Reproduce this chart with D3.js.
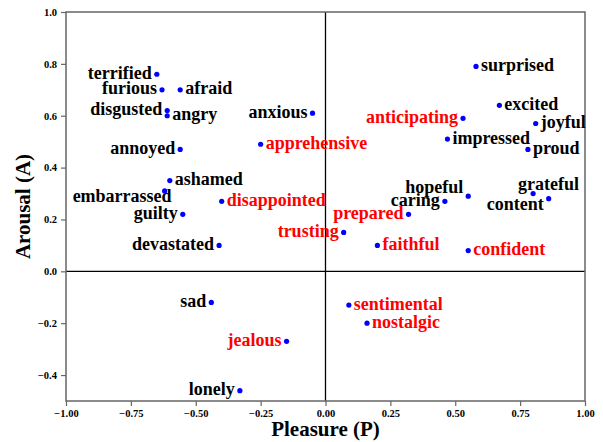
<!DOCTYPE html>
<html>
<head>
<meta charset="utf-8">
<script src="https://cdn.jsdelivr.net/npm/d3@7"></script>
<style>
  body { margin: 0; background: #fff }
  svg { display: block; font-family: "Liberation Serif", "Times New Roman", serif; font-weight: bold }
</style>
</head>
<body>
<svg id="chart" width="603" height="442"></svg>
<script>
'use strict'

// emotion words with their pleasure / arousal scores
const emotions = ['terrified', 'furious', 'afraid', 'disgusted', 'angry', 'anxious', 'apprehensive', 'annoyed',
    'ashamed', 'embarrassed', 'disappointed', 'guilty', 'devastated', 'trusting', 'prepared', 'faithful',
    'caring', 'hopeful', 'confident', 'grateful', 'content', 'surprised', 'excited', 'anticipating',
    'joyful', 'impressed', 'proud', 'sad', 'jealous', 'lonely', 'sentimental', 'nostalgic']
const pleasure = [-0.65, -0.63, -0.56, -0.61, -0.61, -0.05, -0.25, -0.56,
    -0.60, -0.62, -0.40, -0.55, -0.41, 0.07, 0.32, 0.20,
    0.46, 0.55, 0.55, 0.80, 0.86, 0.58, 0.67, 0.53,
    0.81, 0.47, 0.78, -0.44, -0.15, -0.33, 0.09, 0.16]
const arousal = [0.76, 0.70, 0.70, 0.62, 0.60, 0.61, 0.49, 0.47,
    0.35, 0.31, 0.27, 0.22, 0.10, 0.15, 0.22, 0.10,
    0.27, 0.29, 0.08, 0.30, 0.28, 0.79, 0.64, 0.59,
    0.57, 0.51, 0.47, -0.12, -0.27, -0.46, -0.13, -0.20]
// 1 = highlighted (red) word
const highlighted = [0, 0, 0, 0, 0, 0, 1, 0,
    0, 0, 1, 0, 0, 1, 1, 1,
    0, 0, 1, 0, 0, 0, 0, 1,
    0, 0, 0, 0, 1, 0, 1, 1]

const xTicks = [-1, -0.75, -0.5, -0.25, 0, 0.25, 0.5, 0.75, 1]
const yTicks = [-0.4, -0.2, 0, 0.2, 0.4, 0.6, 0.8, 1.0]

// label layout: which side of the dot, plus a few hand nudges
const labelSide = ['L', 'L', 'R', 'L', 'R', 'L', 'R', 'L',
    'R', 'L', 'R', 'L', 'L', 'L', 'L', 'R',
    'L', 'L', 'R', 'R', 'L', 'R', 'R', 'L',
    'R', 'R', 'R', 'L', 'L', 'L', 'R', 'R']
const labelNudge = { embarrassed: [12, 7], hopeful: [0, -8], grateful: [-20, -8.5], content: [0, 7] }

const svg = d3.select('#chart')
const mLeft = 66, mRight = 585, mTop = 12, mBottom = 401
const frameColor = '#666'

const x = d3.scaleLinear().domain([-1, 1]).range([mLeft, mRight])
const y = d3.scaleLinear().domain([-0.5, 1]).range([mBottom, mTop])

let data = emotions.map((d, i) => ({ word: d, p: pleasure[i], a: arousal[i], red: highlighted[i], side: labelSide[i] }))

// axes
let gx = svg.append('g').attr('transform', `translate(0, ${mBottom})`)
    .call(d3.axisBottom(x).tickValues(xTicks).tickFormat(d3.format('.2f')).tickSize(5).tickPadding(4).tickSizeOuter(0))
let gy = svg.append('g').attr('transform', `translate(${mLeft}, 0)`)
    .call(d3.axisLeft(y).tickValues(yTicks).tickFormat(d3.format('.1f')).tickSize(5).tickPadding(4).tickSizeOuter(0))

for (let g of [gx, gy]) {
    g.attr('font-family', null).attr('font-size', null)
    g.select('.domain').remove()
    g.selectAll('line').attr('stroke', frameColor).attr('stroke-width', 1.2)
    g.selectAll('text').attr('fill', '#000').attr('font-size', '10.5px')
}

// zero lines
svg.append('line').attr('x1', x(0)).attr('x2', x(0)).attr('y1', mTop).attr('y2', mBottom).attr('stroke', '#000').attr('stroke-width', 1.3)
svg.append('line').attr('x1', mLeft).attr('x2', mRight).attr('y1', y(0)).attr('y2', y(0)).attr('stroke', '#000').attr('stroke-width', 1.3)

// frame
svg.append('rect').attr('x', mLeft).attr('y', mTop).attr('width', mRight - mLeft).attr('height', mBottom - mTop)
    .attr('fill', 'none').attr('stroke', frameColor).attr('stroke-width', 1.5)

// points
svg.append('g').selectAll('circle').data(data).enter().append('circle')
    .attr('cx', d => x(d.p))
    .attr('cy', d => y(d.a))
    .attr('r', 2.6)
    .attr('fill', '#0000ff')

// labels
svg.append('g').selectAll('text').data(data).enter().append('text')
    .attr('x', d => x(d.p) + (d.side === 'L' ? -5 : 5) + (labelNudge[d.word] ? labelNudge[d.word][0] : 0))
    .attr('y', d => y(d.a) + 4.5 + (labelNudge[d.word] ? labelNudge[d.word][1] : 0))
    .attr('text-anchor', d => d.side === 'L' ? 'end' : 'start')
    .attr('font-size', '18px')
    .attr('fill', d => d.red ? '#ff0000' : '#000')
    .text(d => d.word)

// axis titles
svg.append('text').attr('x', (mLeft + mRight) / 2).attr('y', 436).attr('text-anchor', 'middle')
    .attr('font-size', '21px').text('Pleasure (P)')
svg.append('text').attr('transform', `translate(30, ${(mTop + mBottom) / 2}) rotate(-90)`).attr('text-anchor', 'middle')
    .attr('font-size', '21px').text('Arousal (A)')
</script>
</body>
</html>
